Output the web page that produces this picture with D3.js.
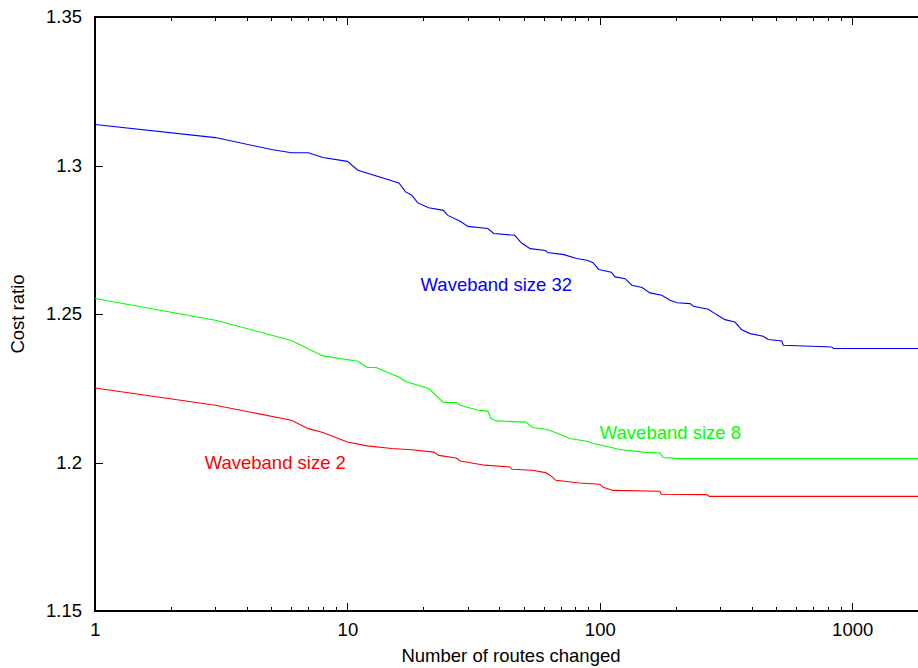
<!DOCTYPE html>
<html>
<head>
<meta charset="utf-8">
<script src="https://cdn.jsdelivr.net/npm/d3@7/dist/d3.min.js"></script>
<style>
  html, body { margin: 0; padding: 0; background: #fff; }
  svg { display: block; font-family: "Liberation Sans", Arial, Helvetica, sans-serif; }
</style>
</head>
<body>
<svg id="chart" width="918" height="668"></svg>
<script>
// Number of routes changed (x) against cost ratio (y), one series per waveband size
const routes32 = [1,3,5,6,7,8,10,11,16,17,18,19,21,24,25,28,30,36,38,46,49,53,61,62,72,81,89,94,99,111,115,126,134,147,158,176,190,202,228,235,269,290,313,343,365,394,444,465,526,533,830,842,2000];
const ratio32  = [1.3138,1.3094,1.3054,1.3043,1.3043,1.3027,1.3014,1.2984,1.2941,1.2911,1.2900,1.2874,1.2858,1.2849,1.2832,1.2812,1.2795,1.2788,1.2771,1.2765,1.2739,1.2720,1.2714,1.2707,1.2700,1.2687,1.2681,1.2673,1.2650,1.2641,1.2625,1.2619,1.2597,1.2589,1.2571,1.2563,1.2546,1.2538,1.2535,1.2526,1.2516,1.2498,1.2481,1.2473,1.2447,1.2434,1.2425,1.2414,1.2409,1.2395,1.2389,1.2384,1.2384];

const routes8 = [1,3,6,8,11,12,13,15,16,17,21,24,27,28,33,36,37,39,51,54,62,71,76,90,94,106,120,149,173,178,208,2000];
const ratio8  = [1.2552,1.2479,1.2411,1.2359,1.2341,1.2320,1.2320,1.2297,1.2288,1.2273,1.2249,1.2202,1.2202,1.2193,1.2176,1.2173,1.2148,1.2140,1.2136,1.2118,1.2111,1.2092,1.2081,1.2071,1.2064,1.2055,1.2044,1.2035,1.2032,1.2017,1.2013,1.2013];

const routes2 = [1,3,6,7,8,10,12,15,18,22,23,27,28,35,44,45,54,61,64,67,83,100,103,113,173,175,265,272,2000];
const ratio2  = [1.2251,1.2193,1.2142,1.2114,1.2101,1.2069,1.2056,1.2047,1.2043,1.2035,1.2024,1.2015,1.2005,1.1991,1.1985,1.1977,1.1974,1.1966,1.1955,1.1940,1.1931,1.1927,1.1917,1.1906,1.1903,1.1893,1.1892,1.1886,1.1886];

const seriesNames = ["Waveband size 32", "Waveband size 8", "Waveband size 2"];
const seriesColors = ["#0000ff", "#00ff00", "#ff0000"];
// label anchor points in data coordinates (left edge, vertical centre)
const labelRoutes = [19.5, 100, 2.72];
const labelRatios = [1.26, 1.21, 1.2];

const xMajor = [1, 10, 100, 1000];
const xMajorLabels = ["1", "10", "100", "1000"];
const yTicks = [1.15, 1.2, 1.25, 1.3, 1.35];
const yTickLabels = ["1.15", "1.2", "1.25", "1.3", "1.35"];

const svg = d3.select("#chart");
const plotLeft = 95, plotTop = 17, plotBottom = 611;
const decade = 252.4;
const xMax = 2000;
const plotRight = plotLeft + decade * Math.log10(xMax);

const x = d3.scaleLog().domain([1, xMax]).range([plotLeft, plotRight]);
const y = d3.scaleLinear().domain([1.15, 1.35]).range([plotBottom, plotTop]);

const fontSize = 18.5;

// minor ticks 2..9 in each decade
const xMinor = [];
for (let d = 1; d < xMax; d *= 10) {
  for (let k = 2; k <= 9; k++) { if (d * k <= xMax) xMinor.push(d * k); }
}

function styleAxis(g) {
  g.select(".domain").remove();
  g.selectAll("line").attr("stroke", "#000").attr("stroke-width", 1).attr("shape-rendering", "crispEdges");
  g.selectAll("text").attr("font-size", fontSize).attr("fill", "#000").attr("font-family", "Liberation Sans, Arial, sans-serif");
}

// bottom axis: major ticks with labels, minor ticks without
svg.append("g").attr("transform", `translate(0,${plotBottom})`)
  .call(d3.axisBottom(x).tickValues(xMajor).tickFormat((d, i) => xMajorLabels[i]).tickSizeInner(-8).tickSizeOuter(0).tickPadding(12))
  .call(styleAxis);
svg.append("g").attr("transform", `translate(0,${plotBottom})`)
  .call(d3.axisBottom(x).tickValues(xMinor).tickFormat("").tickSizeInner(-4).tickSizeOuter(0))
  .call(styleAxis);

// top mirror ticks
svg.append("g").attr("transform", `translate(0,${plotTop})`)
  .call(d3.axisTop(x).tickValues(xMajor).tickFormat("").tickSizeInner(-8).tickSizeOuter(0))
  .call(styleAxis);
svg.append("g").attr("transform", `translate(0,${plotTop})`)
  .call(d3.axisTop(x).tickValues(xMinor).tickFormat("").tickSizeInner(-4).tickSizeOuter(0))
  .call(styleAxis);

// left axis
svg.append("g").attr("transform", `translate(${plotLeft},0)`)
  .call(d3.axisLeft(y).tickValues(yTicks).tickFormat((d, i) => yTickLabels[i]).tickSizeInner(-8).tickSizeOuter(0).tickPadding(13))
  .call(styleAxis);

// right mirror ticks
svg.append("g").attr("transform", `translate(${plotRight},0)`)
  .call(d3.axisRight(y).tickValues(yTicks).tickFormat("").tickSizeInner(-8).tickSizeOuter(0))
  .call(styleAxis);

// plot frame
svg.append("rect")
  .attr("x", plotLeft).attr("y", plotTop)
  .attr("width", plotRight - plotLeft).attr("height", plotBottom - plotTop)
  .attr("fill", "none").attr("stroke", "#000").attr("stroke-width", 2)
  .attr("shape-rendering", "crispEdges");

// series
const allRoutes = [routes32, routes8, routes2];
const allRatios = [ratio32, ratio8, ratio2];
const line = d3.line().x(d => x(d[0])).y(d => y(d[1]));

allRoutes.forEach((rs, i) => {
  const pts = rs.map((r, j) => [r, allRatios[i][j]]);
  svg.append("path")
    .datum(pts)
    .attr("d", line)
    .attr("fill", "none")
    .attr("stroke", seriesColors[i])
    .attr("stroke-width", 1.1)
    .attr("stroke-linejoin", "miter");
});

// series labels
seriesNames.forEach((name, i) => {
  svg.append("text")
    .attr("x", x(labelRoutes[i]))
    .attr("y", y(labelRatios[i]))
    .attr("dy", "0.36em")
    .attr("font-size", fontSize)
    .attr("fill", seriesColors[i])
    .text(name);
});

// axis titles
svg.append("text")
  .attr("x", 511)
  .attr("y", 662)
  .attr("text-anchor", "middle")
  .attr("font-size", fontSize)
  .attr("fill", "#000")
  .text("Number of routes changed");

svg.append("text")
  .attr("transform", `translate(24,${(plotTop + plotBottom) / 2}) rotate(-90)`)
  .attr("text-anchor", "middle")
  .attr("font-size", fontSize)
  .attr("fill", "#000")
  .text("Cost ratio");
</script>
</body>
</html>
